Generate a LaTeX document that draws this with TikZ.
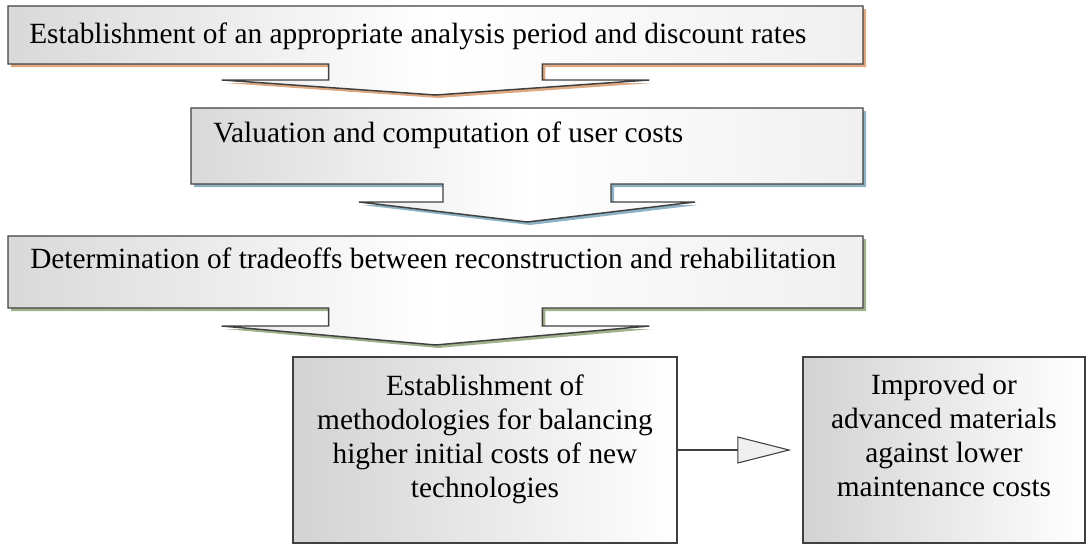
\documentclass[tikz,border=0pt]{standalone}
\usepackage{fontspec}
\setmainfont{Liberation Serif}
\usepackage{tikz}
\usetikzlibrary{arrows.meta}
\usetikzlibrary{positioning}

\newdimen\pix
\pix=0.75pt

\tikzset{
  boxtext/.style={inner sep=0pt, font=\fontsize{22}{25.5}\selectfont},
  calloutshade/.style={draw=black!75, line width=1.1pt, left color=gray!30, right color=gray!12, middle color=white},
  plainbox/.style={draw=black!75, line width=1.1pt, left color=gray!35, right color=white, inner sep=0pt},
  linkarrow/.style={draw=black!75, line width=0.8pt, -{Triangle[length=40.5pt, width=20.25pt, fill=gray!12]}, shorten >=8.25pt}
}

% outline of a box with a flat arrow below: left, top, right, bottom, shaft end, tip
\newcommand{\calloutpath}[6]{(#1,#2) -- (#3,#2) -- (#3,#4)
  -- ({(#1+#3)/2+(#3-#1)/8},#4) -- ({(#1+#3)/2+(#3-#1)/8},#5) -- ({(#1+#3)/2+(#3-#1)/4},#5)
  -- ({(#1+#3)/2},#6)
  -- ({(#1+#3)/2-(#3-#1)/4},#5) -- ({(#1+#3)/2-(#3-#1)/8},#5) -- ({(#1+#3)/2-(#3-#1)/8},#4)
  -- (#1,#4) -- cycle}

\definecolor{shadowtan}{RGB}{222,168,128}
\definecolor{shadowblue}{RGB}{140,178,196}
\definecolor{shadowgreen}{RGB}{160,178,140}

\begin{document}
\begin{tikzpicture}[x=0.75pt, y=-0.75pt]
\useasboundingbox (0,0) rectangle (1086,546);

%shadows
\fill[shadowtan, shift={(3,3)}] \calloutpath{8}{6}{863}{64}{80}{95};
\fill[shadowblue, shift={(3,3)}] \calloutpath{191}{108}{863}{184}{202}{222};
\fill[shadowgreen, shift={(3,3)}] \calloutpath{8}{236}{863}{308}{326}{345};

%callout boxes
\shade[calloutshade] \calloutpath{8}{6}{863}{64}{80}{95};
\shade[calloutshade] \calloutpath{191}{108}{863}{184}{202}{222};
\shade[calloutshade] \calloutpath{8}{236}{863}{308}{326}{345};

\node[boxtext, anchor=base west] (period) at (29,43) {Establishment of an appropriate analysis period and discount rates};
\node[boxtext, anchor=base west] (usercost) at (213,142) {Valuation and computation of user costs};
\node[boxtext, anchor=base west] (tradeoff) at (30,268) {Determination of tradeoffs between reconstruction and rehabilitation};

%last two boxes
\node[plainbox, minimum width=384\pix, minimum height=186\pix] (methods) at (485,450) {};
\node[plainbox, minimum width=282\pix, minimum height=186\pix] (materials) at (944,450) {};
\node[boxtext, align=center, below=18\pix of methods.north] (methodstext) {Establishment of\\methodologies for balancing\\higher initial costs of new\\technologies};
\node[boxtext, align=center, below=18\pix of materials.north] (materialstext) {Improved or\\advanced materials\\against lower\\maintenance costs};

\draw[linkarrow] (methods.east) -- (materials.west);
\end{tikzpicture}
\end{document}
